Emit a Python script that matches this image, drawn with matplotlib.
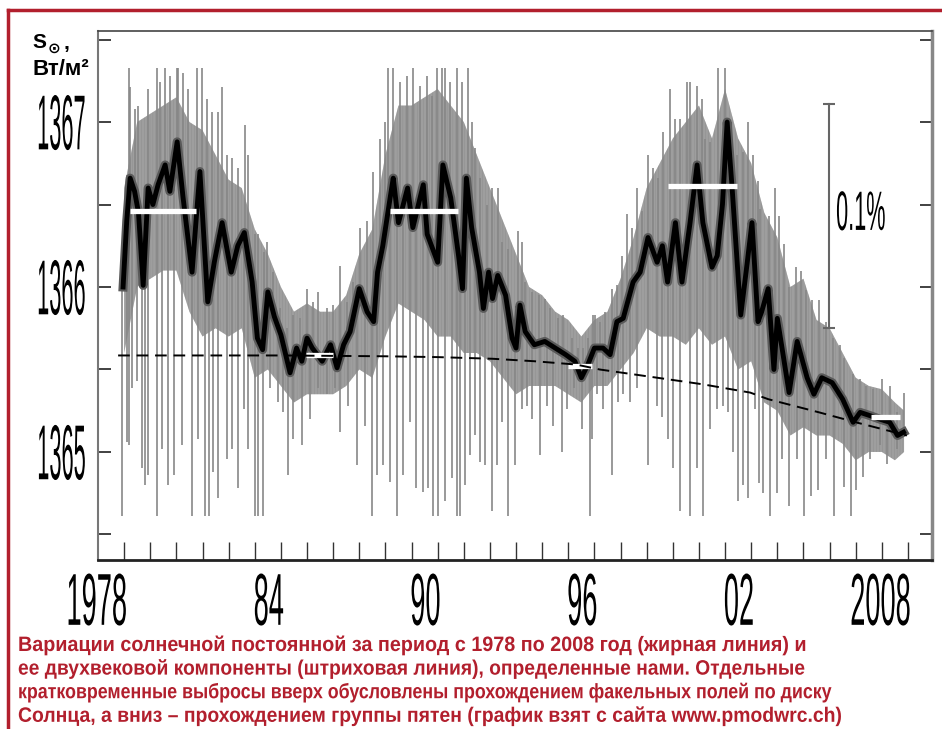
import numpy as np
import matplotlib
matplotlib.use("Agg")
import matplotlib.pyplot as plt
from matplotlib import patheffects
from matplotlib.transforms import Affine2D
from matplotlib.lines import Line2D

# smoothed (thick black) curve, W/m2
smooth_years = [1977.96, 1978.10, 1978.23, 1978.40, 1978.55, 1978.73, 1978.92, 1979.10, 1979.30, 1979.57,
                1979.75, 1980.03, 1980.25, 1980.60, 1980.90, 1981.20, 1981.45, 1981.75, 1982.10, 1982.35,
                1982.60, 1982.90, 1983.10, 1983.30, 1983.50, 1983.75, 1984.00, 1984.35, 1984.60, 1984.80,
                1985.00, 1985.20, 1985.58, 1985.90, 1986.15, 1986.40, 1986.65, 1987.00, 1987.30, 1987.55,
                1987.70, 1987.90, 1988.20, 1988.30, 1988.50, 1988.85, 1989.05, 1989.45, 1989.60, 1990.00,
                1990.20, 1990.50, 1990.80, 1990.95, 1991.10, 1991.30, 1991.60, 1991.75, 1991.95, 1992.10,
                1992.30, 1992.60, 1992.85, 1993.00, 1993.15, 1993.35, 1993.70, 1994.10, 1994.50, 1994.90,
                1995.25, 1995.50, 1995.75, 1996.00, 1996.33, 1996.60, 1996.86, 1997.10, 1997.48, 1997.75,
                1998.05, 1998.40, 1998.60, 1998.80, 1999.10, 1999.35, 1999.66, 1999.93, 2000.15, 2000.50,
                2000.70, 2000.90, 2001.08, 2001.27, 2001.60, 2001.85, 2002.03, 2002.26, 2002.40, 2002.65,
                2002.87, 2003.00, 2003.45, 2003.76, 2004.14, 2004.40, 2004.70, 2005.10, 2005.50, 2005.90,
                2006.17, 2006.55, 2006.90, 2007.30, 2007.60, 2007.83]
smooth_tsi = [1366.00, 1366.40, 1366.66, 1366.58, 1366.45, 1366.01, 1366.60, 1366.50, 1366.62, 1366.74,
              1366.58, 1366.88, 1366.55, 1366.09, 1366.70, 1365.91, 1366.15, 1366.39, 1366.09, 1366.25,
              1366.33, 1366.03, 1365.69, 1365.62, 1365.97, 1365.82, 1365.71, 1365.48, 1365.63, 1365.55,
              1365.69, 1365.63, 1365.55, 1365.65, 1365.51, 1365.65, 1365.73, 1365.99, 1365.85, 1365.79,
              1366.09, 1366.25, 1366.56, 1366.66, 1366.39, 1366.60, 1366.36, 1366.62, 1366.32, 1366.15,
              1366.74, 1366.54, 1366.19, 1365.99, 1366.66, 1366.36, 1366.09, 1365.87, 1366.09, 1365.93,
              1366.07, 1365.95, 1365.69, 1365.63, 1365.89, 1365.73, 1365.65, 1365.67, 1365.63, 1365.59,
              1365.55, 1365.45, 1365.53, 1365.63, 1365.63, 1365.59, 1365.79, 1365.81, 1366.03, 1366.09,
              1366.30, 1366.15, 1366.25, 1366.03, 1366.39, 1366.03, 1366.39, 1366.74, 1366.39, 1366.12,
              1366.19, 1366.50, 1367.00, 1366.60, 1365.83, 1366.15, 1366.39, 1365.79, 1365.85, 1365.99,
              1365.50, 1365.81, 1365.36, 1365.67, 1365.45, 1365.35, 1365.45, 1365.42, 1365.32, 1365.18,
              1365.24, 1365.22, 1365.20, 1365.18, 1365.10, 1365.12]

# dense part of the daily values
band_years = [1978.0, 1978.5, 1979.0, 1979.5, 1980.0, 1980.5, 1981.0, 1981.5, 1982.0, 1982.5,
              1983.0, 1983.5, 1984.0, 1984.5, 1985.0, 1985.5, 1986.0, 1986.5, 1987.0, 1987.5,
              1988.0, 1988.5, 1989.0, 1989.5, 1990.0, 1990.5, 1991.0, 1991.5, 1992.0, 1992.5,
              1993.0, 1993.5, 1994.0, 1994.5, 1995.0, 1995.5, 1996.0, 1996.5, 1997.0, 1997.5,
              1998.0, 1998.5, 1999.0, 1999.5, 2000.0, 2000.5, 2001.0, 2001.5, 2002.0, 2002.5,
              2003.0, 2003.5, 2004.0, 2004.5, 2005.0, 2005.5, 2006.0, 2006.5, 2007.0, 2007.5, 2007.85]
band_top = [1366.6, 1367.0, 1367.05, 1367.1, 1367.15, 1367.0, 1366.95, 1366.8, 1366.65, 1366.6,
            1366.35, 1366.2, 1366.0, 1365.85, 1365.9, 1365.85, 1365.85, 1365.95, 1366.2, 1366.35,
            1366.8, 1367.1, 1367.1, 1367.15, 1367.2, 1367.1, 1367.0, 1366.8, 1366.6, 1366.4,
            1366.2, 1366.0, 1365.95, 1365.85, 1365.8, 1365.7, 1365.8, 1365.85, 1366.05, 1366.3,
            1366.6, 1366.75, 1366.9, 1367.0, 1367.1, 1366.9, 1367.2, 1366.9, 1366.75, 1366.45,
            1366.3, 1366.0, 1366.05, 1365.8, 1365.75, 1365.6, 1365.45, 1365.4, 1365.38, 1365.3, 1365.25]
band_bottom = [1365.6, 1366.0, 1366.05, 1366.1, 1366.1, 1365.85, 1365.7, 1365.75, 1365.7, 1365.75,
               1365.45, 1365.5, 1365.4, 1365.3, 1365.35, 1365.35, 1365.35, 1365.4, 1365.5, 1365.45,
               1365.7, 1365.9, 1365.85, 1365.8, 1365.7, 1365.7, 1365.6, 1365.6, 1365.55, 1365.45,
               1365.35, 1365.4, 1365.4, 1365.4, 1365.35, 1365.3, 1365.4, 1365.4, 1365.5, 1365.6,
               1365.75, 1365.7, 1365.7, 1365.65, 1365.75, 1365.65, 1365.7, 1365.5, 1365.55, 1365.3,
               1365.25, 1365.1, 1365.15, 1365.1, 1365.1, 1365.05, 1364.95, 1365.0, 1365.0, 1364.95, 1365.0]

# short upward excursions (faculae)
up_years = [1978.10, 1978.17, 1978.23, 1978.42, 1978.55, 1978.93, 1979.25, 1979.38, 1979.57, 1979.76,
            1980.02, 1980.08, 1980.27, 1980.46, 1980.78, 1980.97, 1981.16, 1981.35, 1981.61, 1981.74,
            1981.93, 1982.12, 1982.37, 1982.63, 1982.76, 1983.01, 1983.14, 1983.34, 1983.46, 1983.71,
            1983.97, 1984.22, 1984.48, 1984.73, 1984.99, 1985.24, 1985.43, 1985.75, 1986.01, 1986.26,
            1986.52, 1986.77, 1987.03, 1987.28, 1987.54, 1987.79, 1987.98, 1988.11, 1988.30, 1988.56,
            1988.81, 1989.07, 1989.32, 1989.58, 1989.78, 1989.97, 1990.16, 1990.29, 1990.48, 1990.73,
            1990.92, 1991.15, 1991.31, 1991.43, 1991.62, 1991.88, 1992.07, 1992.30, 1992.45, 1992.71,
            1993.07, 1993.22, 1993.35, 1993.60, 1993.86, 1994.11, 1994.30, 1994.62, 1994.81, 1995.13,
            1995.39, 1995.58, 1995.77, 1995.96, 1996.02, 1996.21, 1996.40, 1996.66, 1996.85, 1997.04,
            1997.23, 1997.42, 1997.62, 1997.81, 1998.06, 1998.25, 1998.45, 1998.64, 1998.89, 1999.08,
            1999.27, 1999.53, 1999.66, 1999.91, 2000.10, 2000.23, 2000.42, 2000.74, 2001.00, 2001.19,
            2001.44, 2001.70, 2001.89, 2002.08, 2002.27, 2002.34, 2002.67, 2002.90, 2003.05, 2003.25,
            2003.44, 2003.70, 2003.89, 2004.09, 2004.34, 2004.60, 2004.86, 2005.12, 2005.38, 2005.57,
            2005.89, 2006.15, 2006.41, 2006.67, 2006.99, 2007.31, 2007.57, 2007.83]
up_tsi = [1366.68, 1367.33, 1367.21, 1367.08, 1367.10, 1367.20, 1367.33, 1367.24, 1367.33, 1367.28,
          1367.33, 1367.33, 1367.30, 1367.20, 1367.33, 1367.33, 1367.14, 1367.06, 1367.06, 1367.21,
          1366.80, 1366.78, 1366.72, 1366.98, 1366.80, 1366.32, 1366.32, 1366.21, 1366.27, 1366.09,
          1365.87, 1365.75, 1365.83, 1365.81, 1365.99, 1365.91, 1365.97, 1365.87, 1365.89, 1366.13,
          1365.91, 1366.03, 1366.36, 1366.40, 1366.70, 1366.90, 1367.00, 1367.33, 1367.33, 1367.24,
          1367.28, 1367.33, 1367.22, 1367.28, 1367.16, 1367.33, 1367.33, 1367.33, 1367.24, 1367.33,
          1367.24, 1367.33, 1367.00, 1366.84, 1366.66, 1366.50, 1366.60, 1366.60, 1366.27, 1366.23,
          1366.34, 1366.27, 1366.03, 1365.97, 1365.95, 1365.93, 1365.87, 1365.81, 1365.83, 1365.69,
          1365.63, 1365.63, 1365.69, 1365.83, 1365.83, 1365.79, 1365.85, 1365.99, 1366.01, 1366.19,
          1366.44, 1366.36, 1366.60, 1366.46, 1366.80, 1366.72, 1366.66, 1366.94, 1367.20, 1367.02,
          1367.02, 1367.24, 1367.24, 1367.22, 1367.14, 1366.90, 1366.88, 1367.33, 1367.33, 1366.88,
          1366.80, 1366.82, 1367.00, 1366.80, 1366.64, 1366.47, 1366.43, 1366.60, 1366.43, 1366.26,
          1366.00, 1366.12, 1366.10, 1365.98, 1365.92, 1365.92, 1365.79, 1365.69, 1365.65, 1365.57,
          1365.47, 1365.44, 1365.40, 1365.38, 1365.44, 1365.40, 1365.24, 1365.36]

# short downward excursions (sunspot groups)
down_years = [1977.93, 1978.10, 1978.17, 1978.29, 1978.49, 1978.68, 1978.80, 1978.93, 1979.25, 1979.44,
              1979.67, 1979.89, 1980.21, 1980.59, 1980.84, 1981.10, 1981.23, 1981.42, 1981.61, 1981.93,
              1982.12, 1982.37, 1982.57, 1982.76, 1983.01, 1983.14, 1983.33, 1983.58, 1983.90, 1984.09,
              1984.28, 1984.48, 1984.79, 1985.11, 1985.43, 1985.75, 1986.07, 1986.26, 1986.58, 1986.90,
              1987.22, 1987.47, 1987.66, 1987.92, 1988.17, 1988.43, 1988.68, 1988.94, 1989.19, 1989.45,
              1989.64, 1989.84, 1990.03, 1990.29, 1990.54, 1990.73, 1990.86, 1991.05, 1991.24, 1991.43,
              1991.62, 1991.82, 1992.07, 1992.26, 1992.45, 1992.71, 1992.96, 1993.22, 1993.41, 1993.60,
              1993.92, 1994.18, 1994.43, 1994.75, 1994.94, 1995.20, 1995.51, 1995.83, 1995.89, 1996.08,
              1996.34, 1996.66, 1996.91, 1997.11, 1997.36, 1997.62, 1998.06, 1998.38, 1998.57, 1998.83,
              1999.02, 1999.27, 1999.66, 1999.91, 2000.17, 2000.42, 2000.68, 2000.93, 2001.12, 2001.32,
              2001.51, 2001.70, 2001.89, 2002.14, 2002.28, 2002.47, 2002.73, 2002.99, 2003.18, 2003.44,
              2003.76, 2004.02, 2004.28, 2004.54, 2004.86, 2005.18, 2005.57, 2005.83, 2006.02, 2006.28,
              2006.54, 2006.92, 2007.18, 2007.57]
down_tsi = [1364.61, 1365.06, 1365.04, 1365.39, 1365.43, 1364.90, 1364.80, 1364.86, 1364.61, 1365.02,
            1364.80, 1364.86, 1365.04, 1364.61, 1365.08, 1364.61, 1364.61, 1364.88, 1364.72, 1364.96,
            1365.02, 1364.78, 1365.26, 1365.02, 1364.61, 1364.61, 1364.61, 1365.39, 1365.30, 1365.24,
            1364.86, 1365.08, 1365.04, 1365.20, 1365.39, 1365.35, 1365.39, 1365.12, 1365.28, 1364.92,
            1365.16, 1364.61, 1364.86, 1364.92, 1364.82, 1364.61, 1364.86, 1365.18, 1364.78, 1364.76,
            1364.78, 1364.61, 1364.61, 1364.70, 1364.84, 1364.61, 1364.61, 1364.80, 1364.98, 1365.10,
            1364.94, 1364.92, 1364.64, 1364.92, 1365.18, 1364.61, 1364.92, 1365.26, 1365.28, 1365.20,
            1364.98, 1365.28, 1365.16, 1365.00, 1365.26, 1365.39, 1365.14, 1364.61, 1365.08, 1365.35,
            1365.26, 1364.86, 1365.30, 1365.35, 1365.30, 1365.39, 1364.92, 1365.28, 1365.21, 1365.08,
            1364.90, 1364.64, 1364.61, 1364.90, 1364.61, 1365.14, 1365.26, 1365.28, 1365.24, 1365.00,
            1364.70, 1364.80, 1364.72, 1365.26, 1364.81, 1364.75, 1364.61, 1364.75, 1364.96, 1364.67,
            1364.96, 1364.61, 1364.73, 1364.77, 1364.96, 1364.61, 1364.79, 1364.61, 1364.77, 1364.85,
            1364.96, 1365.04, 1364.93, 1365.02]

# two-century component (dashed)
trend_years = [1977.77, 1980.0, 1984.0, 1988.0, 1990.0, 1992.1, 1993.7, 1995.3, 1996.2, 1998.4,
               2000.15, 2001.96, 2002.65, 2004.6, 2006.0, 2007.96]
trend_tsi = [1365.585, 1365.585, 1365.585, 1365.58, 1365.575, 1365.565, 1365.55, 1365.53, 1365.50, 1365.45,
             1365.41, 1365.36, 1365.32, 1365.24, 1365.18, 1365.10]

# white level marks at maxima and minima
plateau_start = [1978.23, 1988.18, 1998.82, 1984.97, 1995.00, 2006.60]
plateau_end = [1980.76, 1990.78, 2001.46, 1986.00, 1995.90, 2007.70]
plateau_tsi = [1366.46, 1366.46, 1366.61, 1365.59, 1365.52, 1365.21]

scale_year = 2004.98
scale_low, scale_high = 1365.75, 1367.11

label_years = [1978, 1984, 1990, 1996, 2002, 2008]
label_text = ["1978", "84", "90", "96", "02", "2008"]
y_labels = [1365, 1366, 1367]

caption_lines = [
    "Вариации солнечной постоянной за период с 1978 по 2008 год (жирная линия) и",
    "ее двухвековой компоненты (штриховая линия), определенные нами. Отдельные",
    "кратковременные выбросы вверх обусловлены прохождением факельных полей по диску",
    "Солнца, а вниз – прохождением группы пятен (график взят с сайта www.pmodwrc.ch)",
]
caption_right = [812, 811, 838, 847]   # right ends of the lines in the scan, px

RED = "#b21f2d"
plt.rcParams["font.family"] = ["Liberation Sans", "DejaVu Sans"]
plt.rcParams["hatch.linewidth"] = 1.0


class Tall(patheffects.AbstractPathEffect):
    # stretches the glyphs vertically, like the tall condensed type of the scan
    def __init__(self, sy, anchor="center", dx=0.0):
        super().__init__()
        self.sy = sy
        self.anchor = anchor
        self.dx = dx

    def draw_path(self, renderer, gc, tpath, affine, rgbFace=None):
        box = tpath.get_extents(affine)
        if self.anchor == "top":
            y0 = box.y1
        elif self.anchor == "baseline":
            y0 = affine.get_matrix()[1, 2]
        else:
            y0 = 0.5 * (box.y0 + box.y1)
        st = Affine2D().translate(0, -y0).scale(1, self.sy).translate(self.dx, y0)
        renderer.draw_path(gc, tpath, affine + st, rgbFace)


W, H = 942, 729
fig = plt.figure(figsize=(W / 100, H / 100), dpi=100)
ax = fig.add_axes([98 / W, 1 - 560 / H, (932 - 98) / W, (560 - 31) / H])
ax.set_xlim(1977.0, 2008.92)
ax.set_ylim(1364.345, 1367.552)

ax.fill_between(band_years, band_bottom, band_top, facecolor="#dadada", edgecolor="#969696",
                hatch="|" * 11, lw=0)
ax.vlines(up_years, np.interp(up_years, smooth_years, smooth_tsi), up_tsi, color="#878787", lw=1.2)
ax.vlines(down_years, down_tsi, np.interp(down_years, smooth_years, smooth_tsi), color="#878787", lw=1.2)
ax.plot(smooth_years, smooth_tsi, color="#5a5a5a", lw=6.5, solid_joinstyle="round")
ax.plot(smooth_years, smooth_tsi, color="black", lw=3.5, solid_joinstyle="round")
ax.hlines(plateau_tsi, plateau_start, plateau_end, color="white", lw=3.8)
ax.plot(trend_years, trend_tsi, color="black", lw=1.4, ls=(0, (6, 3.5)))

ax.plot([scale_year, scale_year], [scale_low, scale_high], color="#666666", lw=1.5,
        marker="_", ms=9, mew=1.5)
ax.text(scale_year + 0.27, 0.5 * (scale_low + scale_high) + 0.02, "0.1%", fontsize=15.6,
        va="center", ha="left", path_effects=[Tall(2.56)])

ax.set_xticks(label_years, label_text, ha="right")
ax.set_xticks(range(1978, 2009), minor=True)
ax.set_yticks(y_labels, [str(v) for v in y_labels])
ax.set_yticks(np.arange(1364.5, 1367.6, 0.5), minor=True)
ax.tick_params(axis="x", which="both", direction="in", length=13, width=1, color="#333333", pad=9)
ax.tick_params(axis="x", labelsize=19.6)
ax.tick_params(axis="y", which="both", direction="in", length=9, width=1.3, color="#333333",
               right=True, pad=9, labelsize=15.7)
for lab in ax.get_xticklabels():
    lab.set_path_effects([Tall(2.7, "top", 3)])
for lab in ax.get_yticklabels():
    lab.set_path_effects([Tall(3.57, "center")])

ax.spines["left"].set_color("#777777")
ax.spines["left"].set_linewidth(1.5)
ax.spines["right"].set_color("#888888")
ax.spines["right"].set_linewidth(2.5)
ax.spines["top"].set_color("#444444")
ax.spines["top"].set_linewidth(1.2)
ax.spines["bottom"].set_color("#222222")
ax.spines["bottom"].set_linewidth(2)

# unit label in the top left corner
fig.text(32 / W, 1 - 48 / H, "S", fontsize=15, fontweight="bold", va="baseline")
fig.text(48 / W, 1 - 56 / H, "\u2299", fontsize=11, fontweight="bold", va="bottom",
         family=["DejaVu Sans"])
fig.text(64 / W, 1 - 49 / H, ",", fontsize=15, fontweight="bold", va="baseline")
fig.text(33 / W, 1 - 75 / H, "Вт/м²", fontsize=16, fontweight="bold", va="baseline")

# red frame
fig.add_artist(Line2D([8 / W, 8 / W], [0, 1 - 10 / H], color=RED, lw=2.5, transform=fig.transFigure))
fig.add_artist(Line2D([8 / W, 1], [1 - 10 / H, 1 - 10 / H], color=RED, lw=2.5, transform=fig.transFigure))

# caption: every line fitted to its width in the scan, same letter height
renderer = fig.canvas.get_renderer()
for i, line in enumerate(caption_lines):
    t = fig.text(18 / W, 1 - (651 + 23.6 * i) / H, line, color=RED, fontsize=15, fontweight="bold",
                 va="baseline")
    width = t.get_window_extent(renderer).width
    size = 15 * (caption_right[i] - 18) / width
    t.set_fontsize(size)
    t.set_path_effects([Tall(15 / size, "baseline")])

fig.savefig("out.png", dpi=100)
